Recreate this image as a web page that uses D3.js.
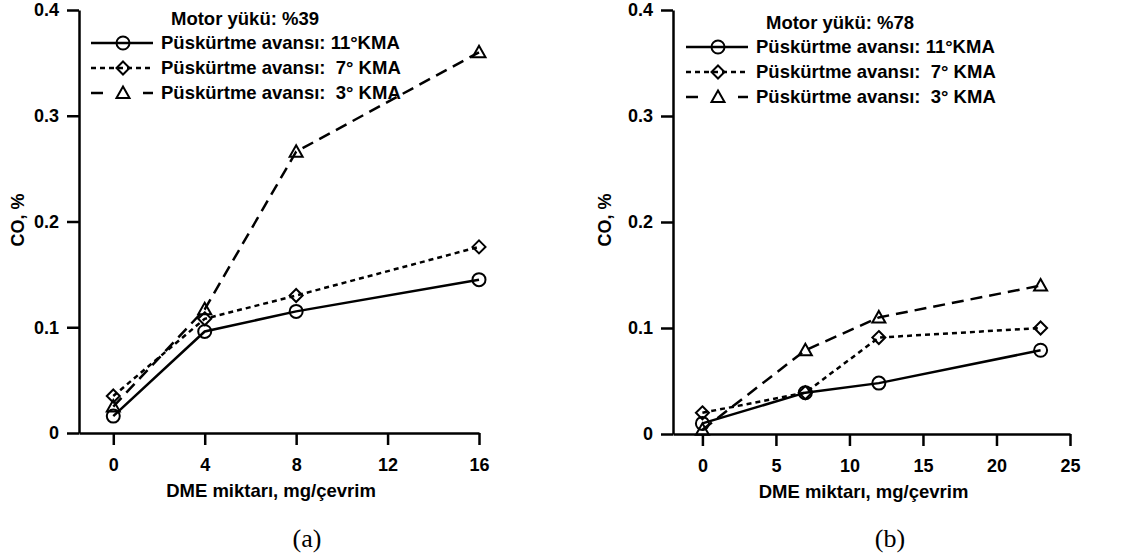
<!DOCTYPE html>
<html>
<head>
<meta charset="utf-8">
<script src="https://cdn.jsdelivr.net/npm/d3@7"></script>
<style>
  body { margin: 0; background: #fff; }
  text { font-family: "Liberation Sans", Arial, sans-serif; font-weight: bold; fill: #000; }
  .caption { font-family: "Liberation Serif", "Times New Roman", serif; font-weight: normal; }
</style>
</head>
<body>
<div id="chart"></div>
<script>
// values
var yTicks = [0, 0.1, 0.2, 0.3, 0.4];

var xA = [0, 4, 8, 16];
var xTicksA = [0, 4, 8, 12, 16];
var coA11 = [0.016, 0.096, 0.115, 0.145];
var coA7 = [0.035, 0.108, 0.130, 0.176];
var coA3 = [0.025, 0.117, 0.266, 0.360];

var xB = [0, 7, 12, 23];
var xTicksB = [0, 5, 10, 15, 20, 25];
var coB11 = [0.010, 0.039, 0.048, 0.079];
var coB7 = [0.020, 0.039, 0.091, 0.100];
var coB3 = [0.004, 0.079, 0.110, 0.140];

var seriesNames = ["Püskürtme avansı: 11°KMA", "Püskürtme avansı:  7° KMA", "Püskürtme avansı:  3° KMA"];
var xLabel = "DME miktarı, mg/çevrim";
var yLabel = "CO, %";

var svg = d3.select("#chart").append("svg")
    .attr("width", 1125)
    .attr("height", 559);

svg.append("rect").attr("width", 1125).attr("height", 559).attr("fill", "#fff");

// marker shapes, line dashes (legend dashes drawn a bit differently)
var styles = [
    { dash: null, legendDash: null, marker: "circle" },
    { dash: "5,4", legendDash: "5,4", marker: "diamond" },
    { dash: "12,7", legendDash: "12,40,10", marker: "triangle" }
];

function drawMarker(g, kind, x, y) {
    var m;
    if (kind == "circle") {
        m = g.append("circle").attr("cx", x).attr("cy", y).attr("r", 6.5);
    } else if (kind == "diamond") {
        m = g.append("path").attr("transform", "translate(" + x + "," + y + ")")
            .attr("d", "M0,-6.5L6.5,0L0,6.5L-6.5,0Z");
    } else {
        m = g.append("path").attr("transform", "translate(" + x + "," + y + ")")
            .attr("d", "M0,-6.5L6.5,5L-6.5,5Z");
    }
    m.attr("fill", "none").attr("stroke", "#000").attr("stroke-width", 2);
}

function drawPanel(p) {
    var xScale = d3.scaleLinear().domain(p.xDomain).range([p.left, p.right]);
    var yScale = d3.scaleLinear().domain([0, 0.4]).range([p.bottom, p.top]);
    var g = svg.append("g");

    // y axis
    var yAxis = g.append("g")
        .attr("transform", "translate(" + p.left + ",0)")
        .call(d3.axisLeft(yScale).tickValues(yTicks).tickSize(12).tickSizeOuter(0).tickPadding(8)
            .tickFormat(function(d) { return d == 0 ? "0" : d3.format(".1f")(d); }));
    // x axis
    var xAxis = g.append("g")
        .attr("transform", "translate(0," + p.bottom + ")")
        .call(d3.axisBottom(xScale).tickValues(p.xTicks).tickSize(12).tickSizeOuter(0).tickPadding(13));

    [yAxis, xAxis].forEach(function(a) {
        a.selectAll("path, line").attr("stroke", "#000").attr("stroke-width", 2.5);
        a.selectAll("text").attr("font-size", "18px").attr("fill", "#000")
            .style("font-family", "'Liberation Sans', Arial, sans-serif").style("font-weight", "bold");
    });

    // axis titles
    g.append("text")
        .attr("x", (p.left + p.right) / 2 - 8)
        .attr("y", p.bottom + 64)
        .attr("text-anchor", "middle")
        .attr("font-size", "18.5px")
        .text(xLabel);
    g.append("text")
        .attr("transform", "translate(" + p.yLabelX + "," + 220 + ") rotate(-90)")
        .attr("text-anchor", "middle")
        .attr("dy", "0.35em")
        .attr("font-size", "18px")
        .text(yLabel);

    // lines + markers
    var line = d3.line()
        .x(function(d) { return xScale(d[0]); })
        .y(function(d) { return yScale(d[1]); });

    p.series.forEach(function(vals, i) {
        var pts = p.xs.map(function(x, j) { return [x, vals[j]]; });
        g.append("path")
            .attr("d", line(pts))
            .attr("fill", "none")
            .attr("stroke", "#000")
            .attr("stroke-width", 2.5)
            .attr("stroke-dasharray", styles[i].dash);
        pts.forEach(function(d) {
            drawMarker(g, styles[i].marker, xScale(d[0]), yScale(d[1]));
        });
    });

    // legend
    var lx = p.left + p.legendDx, ly = p.legendY;
    g.append("text")
        .attr("x", lx + 80)
        .attr("y", ly - 18)
        .attr("font-size", "18.5px")
        .text(p.title);
    seriesNames.forEach(function(name, i) {
        var y = ly + i * 25;
        g.append("line")
            .attr("x1", lx).attr("x2", lx + 62)
            .attr("y1", y).attr("y2", y)
            .attr("stroke", "#000").attr("stroke-width", 2.5)
            .attr("stroke-dasharray", styles[i].legendDash);
        drawMarker(g, styles[i].marker, lx + 32, y);
        g.append("text")
            .attr("x", lx + 70)
            .attr("y", y + 6)
            .attr("font-size", "18.5px")
            .style("white-space", "pre")
            .text(name);
    });

    // caption
    svg.append("text")
        .attr("class", "caption")
        .attr("x", p.captionX)
        .attr("y", 547)
        .attr("text-anchor", "middle")
        .attr("font-size", "26px")
        .text(p.caption);
}

drawPanel({
    xDomain: [-1.5, 16], xTicks: xTicksA, xs: xA,
    series: [coA11, coA7, coA3],
    left: 79, right: 479, top: 10, bottom: 433,
    yLabelX: 18, legendDx: 12, legendY: 43,
    title: "Motor yükü: %39", caption: "(a)", captionX: 307
});

drawPanel({
    xDomain: [-2, 25], xTicks: xTicksB, xs: xB,
    series: [coB11, coB7, coB3],
    left: 673, right: 1070, top: 10, bottom: 434,
    yLabelX: 605, legendDx: 13, legendY: 47,
    title: "Motor yükü: %78", caption: "(b)", captionX: 890
});
</script>
</body>
</html>
